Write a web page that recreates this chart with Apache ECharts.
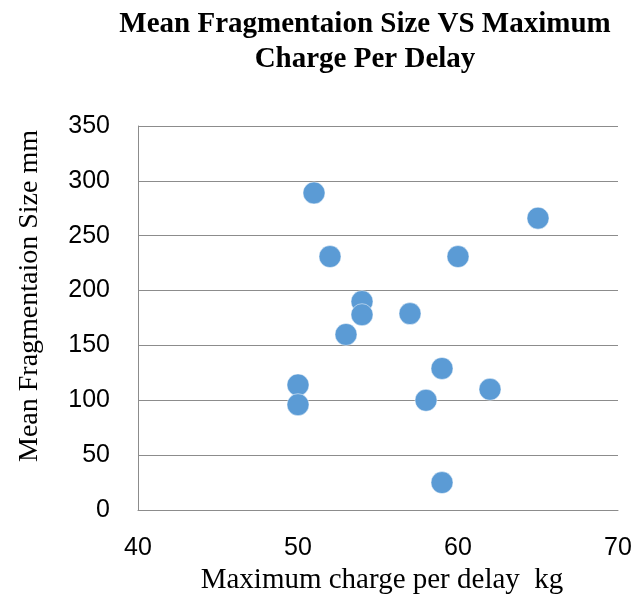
<!DOCTYPE html>
<html>
<head>
<meta charset="utf-8">
<script src="https://cdn.jsdelivr.net/npm/echarts@6/dist/echarts.min.js"></script>
<style>
  html, body { margin: 0; padding: 0; background: #fff; }
  #chart { width: 644px; height: 594px; }
</style>
</head>
<body>
<div id="chart"></div>
<script>
// Maximum charge per delay (kg) and the resulting mean fragmentation size (mm)
const chargeKg = [51, 65, 52, 60, 54, 54, 57, 53, 59, 62, 58, 59, 50, 50];
const fragSizeMm = [289, 266, 231, 231, 190, 178, 179, 160, 129, 110, 100, 25, 114, 96];
const xTicks = { min: 40, max: 70, step: 10 };
const yTicks = { min: 0, max: 350, step: 50 };

const points = chargeKg.map((x, i) => [x, fragSizeMm[i]]);

const chart = echarts.init(document.getElementById('chart'), null, { renderer: 'canvas' });
const lineColor = '#8c8c8c';

chart.setOption({
  animation: false,
  backgroundColor: '#ffffff',
  title: {
    text: 'Mean Fragmentaion Size VS Maximum\nCharge Per Delay',
    left: 360,
    top: 2,
    textAlign: 'center',
    textStyle: {
      fontFamily: 'Liberation Serif',
      fontWeight: 'bold',
      fontSize: 29,
      lineHeight: 35,
      color: '#000'
    }
  },
  grid: { left: 138, right: 26, top: 126, bottom: 84, containLabel: false, outerBoundsMode: 'none' },
  xAxis: {
    type: 'value',
    min: xTicks.min,
    max: xTicks.max,
    interval: xTicks.step,
    name: 'Maximum charge per delay  kg',
    nameLocation: 'middle',
    nameGap: 55,
    nameTextStyle: { fontFamily: 'Liberation Serif', fontSize: 29, color: '#000', padding: [0, 0, 0, 8] },
    axisLine: { show: true, lineStyle: { color: lineColor, width: 1 } },
    axisTick: { show: false },
    splitLine: { show: false },
    axisLabel: { fontFamily: 'Liberation Sans', fontSize: 25, color: '#000', margin: 26 }
  },
  yAxis: {
    type: 'value',
    min: yTicks.min,
    max: yTicks.max,
    interval: yTicks.step,
    name: 'Mean Fragmentaion Size mm',
    nameLocation: 'middle',
    nameGap: 94,
    nameTextStyle: { fontFamily: 'Liberation Serif', fontSize: 28, color: '#000', padding: [0, 0, 0, 44] },
    axisLine: { show: true, lineStyle: { color: lineColor, width: 1 } },
    axisTick: { show: false },
    splitLine: { show: true, lineStyle: { color: lineColor, width: 1 } },
    axisLabel: { fontFamily: 'Liberation Sans', fontSize: 25, color: '#000', margin: 28 }
  },
  series: [{
    type: 'scatter',
    data: points,
    symbol: 'circle',
    symbolSize: 22,
    itemStyle: { color: '#5b9bd5', opacity: 1, borderColor: '#ffffff', borderWidth: 0.5 }
  }]
});
</script>
</body>
</html>
